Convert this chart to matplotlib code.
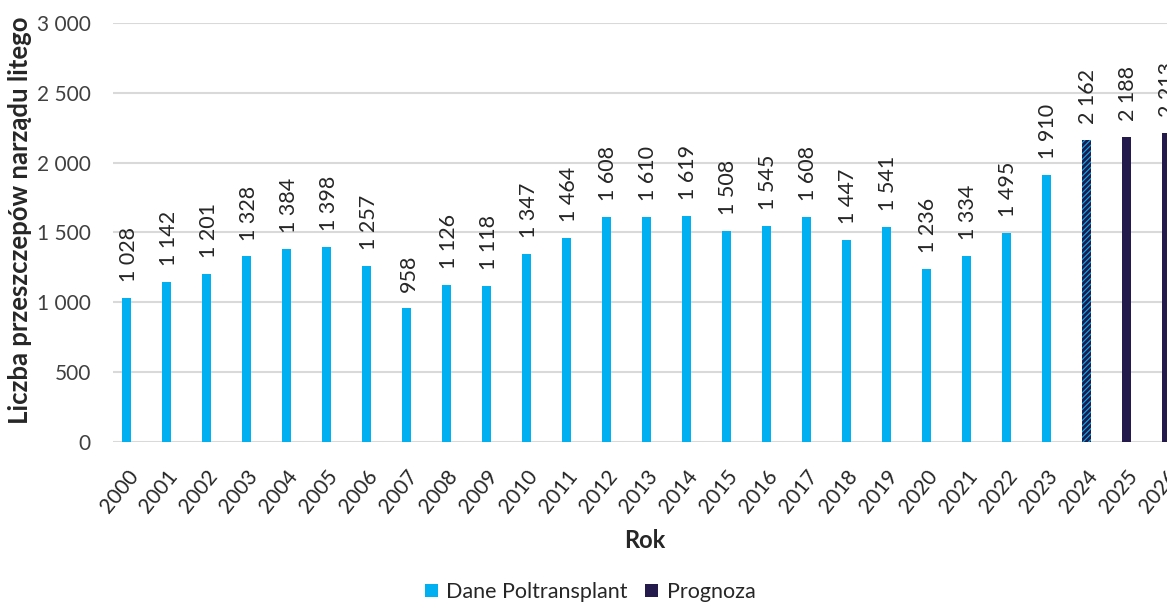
import matplotlib
matplotlib.use("Agg")
import matplotlib.pyplot as plt
from matplotlib.patches import Patch
import numpy as np

plt.rcParams['font.family'] = ['Lato', 'DejaVu Sans']
plt.rcParams['hatch.linewidth'] = 2.0

years = [str(y) for y in range(2000, 2027)]
values = [1028, 1142, 1201, 1328, 1384, 1398, 1257, 958, 1126, 1118, 1347, 1464,
          1608, 1610, 1619, 1508, 1545, 1608, 1447, 1541, 1236, 1334, 1495, 1910,
          2162, 2188, 2213]
kinds = ['data'] * 24 + ['hatch', 'forecast', 'forecast']
y_ticks = [0, 500, 1000, 1500, 2000, 2500, 3000]

LIGHT = '#00B0F0'
DARK = '#241A4C'
TXT = '#262626'

def fmt(v):
    return f"{v:,}".replace(",", " ")

fig = plt.figure(figsize=(11.67, 6.04), dpi=100)
ax = fig.add_axes([113/1167, 1 - 441.7/604, 1 - 113/1167, (441.7 - 23.3)/604])

x = np.arange(len(years))
w = 0.225
for xi, v, k in zip(x, values, kinds):
    if k == 'data':
        ax.bar(xi, v, width=w, color=LIGHT, zorder=3)
    elif k == 'forecast':
        ax.bar(xi, v, width=w, color=DARK, zorder=3)
    else:
        ax.bar(xi, v, width=w, facecolor=LIGHT, edgecolor=DARK, hatch='//////',
               linewidth=0, zorder=3)
    ax.annotate(fmt(v), (xi, v), xytext=(1.5, 11.5), textcoords='offset points',
                rotation=90, ha='center', va='bottom', fontsize=15.5,
                color=TXT, annotation_clip=False, clip_on=False)

ax.set_xlim(-0.34, 26.02)
ax.set_ylim(0, 3000)
ax.set_yticks(y_ticks)
ax.set_yticklabels([fmt(t) for t in y_ticks], fontsize=15, color='#404040')
ax.set_xticks(x)
ax.set_xticklabels(years, rotation=51, ha='right', rotation_mode='anchor',
                   fontsize=15, color=TXT)
ax.tick_params(axis='both', length=0)
ax.tick_params(axis='x', pad=18)
ax.tick_params(axis='y', pad=16)
for s in ax.spines.values():
    s.set_visible(False)
ax.grid(axis='y', color='#D9D9D9', linewidth=1.5, zorder=0)
ax.set_axisbelow(True)

fig.text(20/1167, 1 - 220/604, 'Liczba przeszczepów narządu litego', rotation=90,
         ha='center', va='center', fontsize=18.5, fontweight='bold', color=TXT)
fig.text(645/1167, 1 - 541/604, 'Rok', ha='center', va='center', fontsize=17,
         fontweight='bold', color=TXT)

handles = [Patch(facecolor=LIGHT, label='Dane Poltransplant'),
           Patch(facecolor=DARK, label='Prognoza')]
fig.legend(handles=handles, loc='center', bbox_to_anchor=(590/1167, 1 - 592/604),
           ncol=2, frameon=False, fontsize=15.5, handlelength=0.6, handleheight=0.6,
           handletextpad=0.4, columnspacing=0.8, labelcolor=TXT)

fig.savefig('out.png', dpi=100)
